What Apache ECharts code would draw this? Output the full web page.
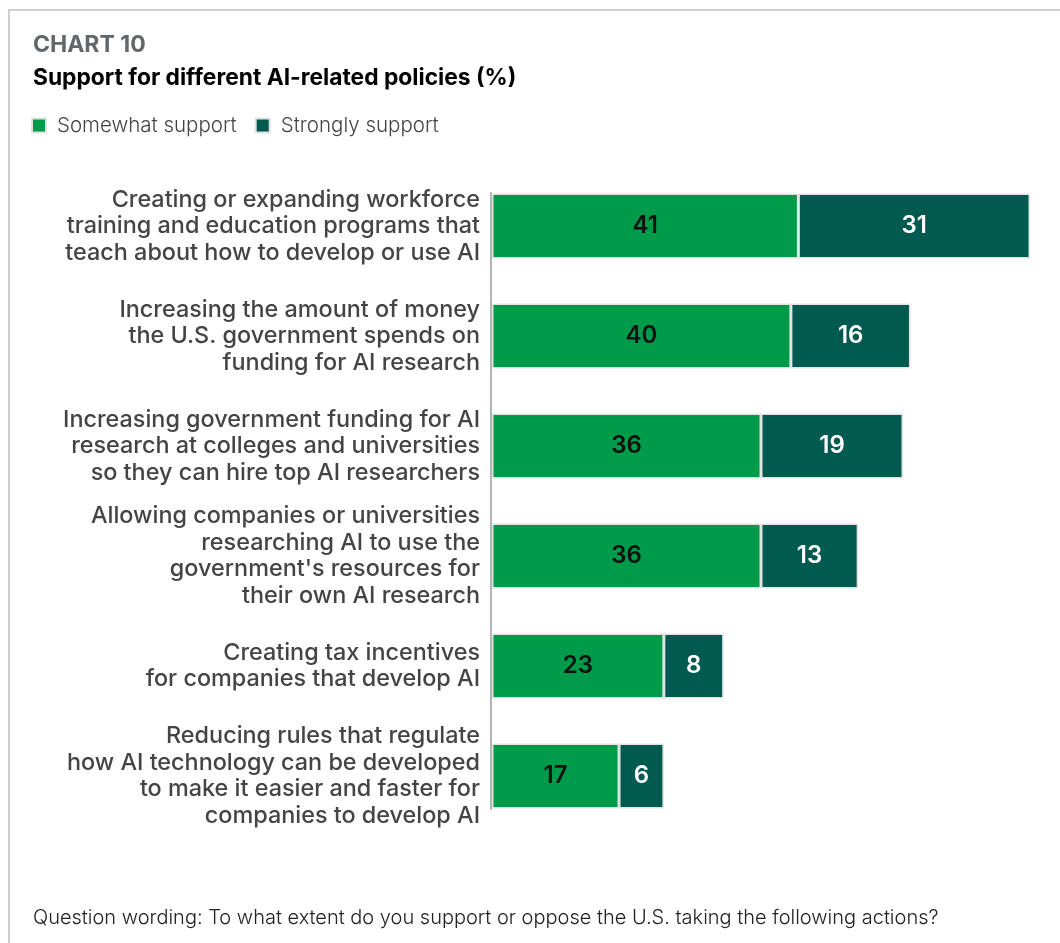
<!DOCTYPE html>
<html>
<head>
<meta charset="utf-8">
<script src="https://cdn.jsdelivr.net/npm/echarts@6/dist/echarts.min.js"></script>
<style>
  html, body { margin: 0; padding: 0; background: #fff; }
  #frame { position: absolute; left: 8px; top: 9px; width: 1060px; height: 940px;
           border-top: 2px solid #cfcfcf; border-left: 2px solid #cfcfcf; }
  #chart { position: absolute; left: 0; top: 0; width: 1060px; height: 943px; }
</style>
</head>
<body>
<div id="frame"></div>
<div id="chart"></div>
<script>
// policy categories (top to bottom)
const categories = [
  'Creating or expanding workforce\ntraining and education programs that\nteach about how to develop or use AI',
  'Increasing the amount of money\nthe U.S. government spends on\nfunding for AI research',
  'Increasing government funding for AI\nresearch at colleges and universities\nso they can hire top AI researchers',
  'Allowing companies or universities\nresearching AI to use the\ngovernment\'s resources for\ntheir own AI research',
  'Creating tax incentives\nfor companies that develop AI',
  'Reducing rules that regulate\nhow AI technology can be developed\nto make it easier and faster for\ncompanies to develop AI'
];
const somewhat = [41, 40, 36, 36, 23, 17];
const strongly = [31, 16, 19, 13, 8, 6];

const seriesNames = ['Somewhat support', 'Strongly support'];
const colors = ['#009b4a', '#005a50'];

let chart = echarts.init(document.getElementById('chart'), null, { renderer: 'canvas' });

let option = {
  animation: false,
  color: colors,
  textStyle: { fontFamily: 'Inter, "Noto Sans", sans-serif' },
  title: [{
    text: 'CHART 10',
    left: 28,
    top: 29,
    textStyle: { fontSize: 23, fontWeight: 'bold', color: '#63676b', fontFamily: 'Inter, sans-serif' }
  }, {
    text: 'Support for different AI-related policies (%)',
    left: 28,
    top: 62,
    textStyle: { fontSize: 22.8, fontWeight: 'bold', color: '#000', fontFamily: 'Inter, sans-serif' }
  }, {
    text: 'Question wording: To what extent do you support or oppose the U.S. taking the following actions?',
    left: 28,
    top: 903,
    textStyle: { fontSize: 20, fontWeight: 300, color: '#222', fontFamily: 'Inter, sans-serif' }
  }],
  legend: {
    left: 26,
    top: 110,
    itemWidth: 14,
    itemHeight: 14,
    itemGap: 18,
    icon: 'rect',
    data: seriesNames,
    textStyle: { fontSize: 20.5, fontWeight: 300, color: '#444', padding: [0, 0, 0, 6] }
  },
  grid: {
    left: 492,
    top: 171,
    width: 538,
    height: 660,
    containLabel: false
  },
  xAxis: {
    type: 'value',
    min: 0,
    max: 72,
    show: false
  },
  yAxis: {
    type: 'category',
    inverse: true,
    data: categories,
    axisLine: { show: false },
    axisTick: { show: false },
    axisLabel: {
      margin: 12,
      fontSize: 23.4,
      fontWeight: 500,
      color: '#444',
      lineHeight: 26.5,
      align: 'right'
    }
  },
  series: [{
    name: seriesNames[0],
    type: 'bar',
    stack: 'total',
    barWidth: 65,
    data: somewhat,
    itemStyle: { borderColor: '#e2e2e2', borderWidth: 1.5 },
    label: { show: true, position: 'inside', fontSize: 24, fontWeight: 600, color: '#111' }
  }, {
    name: seriesNames[1],
    type: 'bar',
    stack: 'total',
    barWidth: 65,
    data: strongly,
    itemStyle: { borderColor: '#e2e2e2', borderWidth: 1.5 },
    label: { show: true, position: 'inside', fontSize: 24, fontWeight: 600, color: '#fff' }
  }]
};

chart.setOption(option);

// vertical baseline from the top of the first bar to the bottom of the last one
let lineTop = chart.convertToPixel({ yAxisIndex: 0 }, categories[0]) - 34;
let lineBottom = chart.convertToPixel({ yAxisIndex: 0 }, categories[categories.length - 1]) + 34;
let x0 = chart.convertToPixel({ xAxisIndex: 0 }, 0) - 1;
chart.setOption({
  graphic: [{
    type: 'line',
    shape: { x1: x0, y1: lineTop, x2: x0, y2: lineBottom },
    style: { stroke: '#b5b5b5', lineWidth: 2 },
    z: 10
  }]
});
</script>
</body>
</html>
